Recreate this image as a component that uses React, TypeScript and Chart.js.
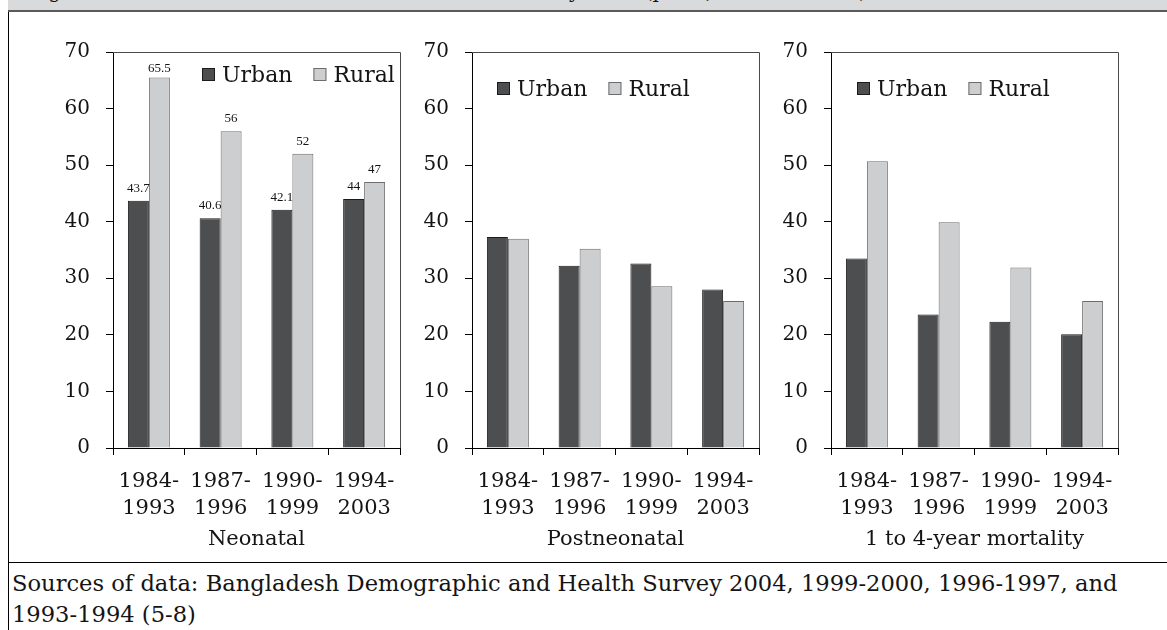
import React, { useEffect, useRef } from "react";
import { Chart, registerables } from "chart.js";

Chart.register(...registerables);

// ---------- data ----------
const categories: string[][] = [
  ["1984-", "1993"],
  ["1987-", "1996"],
  ["1990-", "1999"],
  ["1994-", "2003"],
];
const seriesNames = ["Urban", "Rural"];

const neonatalUrban = [43.7, 40.6, 42.1, 44];
const neonatalRural = [65.5, 56, 52, 47];

const postneonatalUrban = [37.3, 32.2, 32.6, 28.0];
const postneonatalRural = [37.0, 35.2, 28.6, 26.0];

const childUrban = [33.5, 23.6, 22.3, 20.1];
const childRural = [50.7, 39.9, 31.9, 26.0];

const yMin = 0;
const yMax = 70;
const yStep = 10;

const panelTitles = ["Neonatal", "Postneonatal", "1 to 4-year mortality"];
const figureTitle =
  "Figure: Trends in urban and rural under-five mortality rates (per 1,000 live births)";
const sourceLines = [
  "Sources of data: Bangladesh Demographic and Health Survey 2004, 1999-2000, 1996-1997, and",
  "1993-1994 (5-8)",
];

// ---------- styles ----------
const SERIF = "'DejaVu Serif', serif";
const URBAN_FILL = "#4d4e50";
const URBAN_BORDER = "#1b1b1b";
const RURAL_FILL = "#cdced0";
const RURAL_BORDER = "#6c6c6c";
const TEXT = "#141414";

type PanelProps = {
  left: number;
  urban: number[];
  rural: number[];
  title: string;
  showValues: boolean;
  legendDx: number;
  legendDy: number;
};

function Panel({ left, urban, rural, title, showValues, legendDx, legendDy }: PanelProps) {
  const ref = useRef<HTMLCanvasElement | null>(null);

  useEffect(() => {
    const canvas = ref.current;
    if (!canvas) return;

    const frameBox = {
      id: "frameBox",
      beforeDatasetsDraw(chart: any) {
        const { ctx, chartArea } = chart;
        const l = Math.round(chartArea.left);
        const t = Math.round(chartArea.top);
        const r = Math.round(chartArea.right);
        const b = Math.round(chartArea.bottom);
        ctx.save();
        ctx.strokeStyle = "#4a4a4a";
        ctx.lineWidth = 1;
        ctx.beginPath();
        ctx.moveTo(l, t + 0.5);
        ctx.lineTo(r + 0.5, t + 0.5);
        ctx.lineTo(r + 0.5, b);
        ctx.stroke();
        ctx.restore();
      },
    };

    const boxLegend = {
      id: "boxLegend",
      afterDraw(chart: any) {
        const { ctx, chartArea } = chart;
        ctx.save();
        ctx.font = `22px ${SERIF}`;
        ctx.textBaseline = "alphabetic";
        ctx.textAlign = "left";
        let x = Math.round(chartArea.left + legendDx);
        const y = Math.round(chartArea.top + legendDy);
        chart.data.datasets.forEach((ds: any) => {
          ctx.fillStyle = ds.backgroundColor;
          ctx.fillRect(x, y, 13, 13);
          ctx.strokeStyle = ds.borderColor;
          ctx.lineWidth = 1;
          ctx.strokeRect(x + 0.5, y + 0.5, 12, 12);
          ctx.fillStyle = TEXT;
          ctx.fillText(ds.label, x + 20, y + 14);
          x += 20 + ctx.measureText(ds.label).width + 21;
        });
        ctx.restore();
      },
    };

    const valueLabels = {
      id: "valueLabels",
      afterDatasetsDraw(chart: any) {
        if (!showValues) return;
        const { ctx, chartArea } = chart;
        ctx.save();
        ctx.font = "13px 'Liberation Serif', serif";
        ctx.fillStyle = TEXT;
        ctx.textAlign = "center";
        ctx.textBaseline = "alphabetic";
        chart.data.datasets.forEach((ds: any, di: number) => {
          const meta = chart.getDatasetMeta(di);
          meta.data.forEach((el: any, i: number) => {
            const yy = Math.max(el.y - 9, chartArea.top + 20);
            ctx.fillText(String(ds.data[i]), el.x, yy);
          });
        });
        ctx.restore();
      },
    };

    const chart = new Chart(canvas, {
      type: "bar",
      data: {
        labels: categories,
        datasets: [
          {
            label: seriesNames[0],
            data: urban,
            backgroundColor: URBAN_FILL,
            borderColor: URBAN_BORDER,
            borderWidth: 1,
            barPercentage: 1,
            categoryPercentage: 0.585,
          },
          {
            label: seriesNames[1],
            data: rural,
            backgroundColor: RURAL_FILL,
            borderColor: RURAL_BORDER,
            borderWidth: 1,
            barPercentage: 1,
            categoryPercentage: 0.585,
          },
        ],
      },
      options: {
        responsive: false,
        animation: false,
        events: [],
        layout: { padding: { top: 15, right: 20, left: 0, bottom: 0 } },
        plugins: {
          legend: { display: false },
          tooltip: { enabled: false },
        },
        scales: {
          x: {
            grid: {
              display: true,
              drawOnChartArea: false,
              offset: true,
              tickLength: 7,
              color: "#000",
            },
            border: { display: true, color: "#000", width: 1 },
            ticks: {
              font: { family: SERIF, size: 21, lineHeight: 1.3 },
              color: TEXT,
              padding: 13,
              maxRotation: 0,
              autoSkip: false,
            },
            title: {
              display: true,
              text: title,
              font: { family: SERIF, size: 21, lineHeight: 1.2 },
              color: TEXT,
              padding: { top: 0, bottom: 8 },
            },
            afterFit: (s: any) => {
              s.height = 112;
            },
          },
          y: {
            min: yMin,
            max: yMax,
            ticks: {
              stepSize: yStep,
              font: { family: SERIF, size: 20 },
              color: TEXT,
              padding: 16,
            },
            grid: {
              display: true,
              drawOnChartArea: false,
              tickLength: 7,
              color: "#000",
            },
            border: { display: true, color: "#000", width: 1 },
            afterFit: (s: any) => {
              s.width = 93;
            },
          },
        },
      },
      plugins: [frameBox, valueLabels, boxLegend],
    } as any);

    return () => chart.destroy();
  }, [left, urban, rural, title, showValues, legendDx, legendDy]);

  return (
    <canvas
      ref={ref}
      width={400}
      height={536}
      style={{ position: "absolute", left, top: 24, width: 400, height: 536 }}
    />
  );
}

export default function App() {
  return (
    <div
      style={{
        position: "absolute",
        left: 0,
        top: 0,
        width: 1167,
        height: 630,
        background: "#fff",
        overflow: "hidden",
      }}
    >
      {/* title band (cut off at top) */}
      <div
        style={{
          position: "absolute",
          left: 8,
          top: 0,
          width: 1159,
          height: 10,
          background: "#d9dadb",
          borderBottom: "2px solid #5a5a5a",
          overflow: "hidden",
        }}
      >
        <div
          style={{
            position: "absolute",
            left: 20,
            top: -21,
            whiteSpace: "nowrap",
            fontFamily: SERIF,
            fontSize: 20,
            lineHeight: "24px",
            color: TEXT,
          }}
        >
          {figureTitle}
        </div>
      </div>
      {/* left frame line */}
      <div style={{ position: "absolute", left: 8, top: 12, width: 1, height: 618, background: "#000" }} />
      {/* separator line */}
      <div style={{ position: "absolute", left: 8, top: 562, width: 1159, height: 1, background: "#000" }} />

      <Panel
        left={20}
        urban={neonatalUrban}
        rural={neonatalRural}
        title={panelTitles[0]}
        showValues={true}
        legendDx={89}
        legendDy={16}
      />
      <Panel
        left={379}
        urban={postneonatalUrban}
        rural={postneonatalRural}
        title={panelTitles[1]}
        showValues={false}
        legendDx={25}
        legendDy={30}
      />
      <Panel
        left={738}
        urban={childUrban}
        rural={childRural}
        title={panelTitles[2]}
        showValues={false}
        legendDx={26}
        legendDy={30}
      />

      <div
        style={{
          position: "absolute",
          left: 12,
          top: 568,
          fontFamily: SERIF,
          fontSize: 22.6,
          lineHeight: "31px",
          color: TEXT,
          whiteSpace: "nowrap",
        }}
      >
        {sourceLines.map((s, i) => (
          <div key={i}>{s}</div>
        ))}
      </div>
    </div>
  );
}
